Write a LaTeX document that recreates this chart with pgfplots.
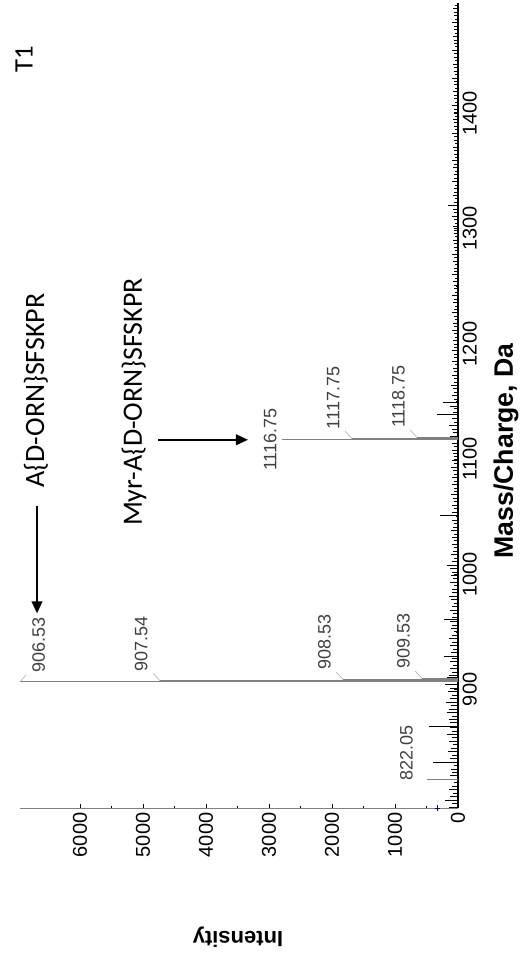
\documentclass[border=0pt]{standalone}
\usepackage{pgfplots}
\pgfplotsset{compat=1.18}
\usepackage{pgfplotstable}
\usepackage{fontspec}
\setmainfont{Liberation Sans}
\newfontfamily\calib{Carlito}
\usetikzlibrary{arrows.meta,calc}

% baseline noise: intensity, m/z
\pgfplotstableread{
int mz
140 798
90 801
210 804
120 807
80 810
150 813
100 816
70 819
130 825
90 828
110 831
70 834
400 837
120 840
90 843
160 846
110 849
80 852
140 855
100 858
170 861
90 864
130 867
460 868.3
120 871
150 874
90 877
180 880
140 883
110 886
190 889
130 892
100 895
160 898
120 901
210 904
180 910.5
140 912
100 915
130 918
80 921
120 924
90 927
230 929
110 932
80 935
120 938
90 941
140 944
100 947
70 950
110 953
90 956
130 959
220 960.5
100 963
80 966
120 969
90 972
70 975
110 978
150 981
90 984
100 987
70 990
120 993
80 996
110 999
90 1002
130 1005
170 1008
90 1011
70 1014
110 1017
80 1020
60 1023
100 1026
70 1029
90 1032
60 1035
110 1038
80 1041
70 1044
100 1047
290 1051
90 1054
70 1057
100 1060
60 1063
80 1066
110 1069
70 1072
60 1075
90 1078
70 1081
100 1084
60 1087
80 1090
110 1093
70 1096
90 1099
60 1102
80 1105
100 1108
70 1111
90 1114
120 1120
80 1123
100 1126
150 1129
70 1132
90 1135
330 1138.6
80 1141
70 1144
120 1146
240 1149
70 1152
90 1155
60 1158
80 1161
110 1164
60 1167
70 1170
90 1173
60 1176
80 1179
50 1182
90 1185
70 1188
60 1191
100 1194
70 1197
60 1200
80 1203
50 1206
70 1209
90 1212
60 1215
80 1218
50 1221
70 1224
90 1227
60 1230
50 1233
80 1236
60 1239
90 1242
50 1245
70 1248
60 1251
80 1254
50 1257
90 1260
60 1263
70 1266
50 1269
80 1272
60 1275
90 1278
50 1281
70 1284
60 1287
80 1290
50 1293
70 1296
60 1299
80 1302
50 1305
70 1308
90 1311
60 1314
80 1317
160 1320.5
70 1323
50 1326
80 1329
60 1332
70 1335
50 1338
90 1341
60 1344
70 1347
50 1350
80 1353
60 1356
90 1359
50 1362
70 1365
60 1368
80 1371
50 1374
70 1377
60 1380
90 1383
50 1386
70 1389
60 1392
80 1395
50 1398
70 1401
60 1404
90 1407
50 1410
70 1413
60 1416
80 1419
50 1422
70 1425
60 1428
90 1431
50 1434
70 1437
60 1440
80 1443
50 1446
70 1449
60 1452
90 1455
50 1458
70 1461
60 1464
80 1467
50 1470
70 1473
60 1476
90 1479
50 1482
70 1485
60 1488
80 1491
50 1494
}\noise

% labelled peaks: intensity, m/z
\pgfplotstableread{
int mz
492 822.05
6950 906.53
4730 907.54
1825 908.53
571 909.53
2794 1116.75
1683 1117.75
651 1118.75
}\peaks

\tikzset{
  pk/.style={font=\fontsize{13.5}{14}\selectfont, text=black!75, inner sep=0pt, rotate=90},
  ld/.style={gray!70, line width=0.4pt},
}

\begin{document}
\begin{tikzpicture}
\useasboundingbox (0,0) rectangle (393pt,-717.75pt);
\begin{axis}[
  at={(179.25pt,-304.125pt)}, anchor=center,
  scale only axis, width=328.5pt, height=603.75pt,
  x dir=reverse,
  xmin=0, xmax=6950, ymin=797, ymax=1496,
  axis x line=bottom, axis y line=right,
  clip=false,
  xtick={0,1000,...,6000}, ytick={900,1000,...,1400},
  minor x tick num=1, minor y tick num=1,
  tick align=inside,
  major tick length=3pt, minor tick length=1.5pt,
  tick style={black, line width=0.4pt},
  x axis line style={gray, line width=0.5pt, -},
  y axis line style={black, line width=1.4pt, -},
  xticklabel style={rotate=90, anchor=east, font=\fontsize{15}{15}\selectfont},
  yticklabel style={rotate=90, anchor=north, font=\fontsize{15}{15}\selectfont},
  /pgf/number format/assume math mode=true,
  /pgf/number format/set thousands separator={},
]
\addplot[xcomb, black, line width=0.5pt] table[x=int, y=mz] {\noise};
\addplot[xcomb, gray, line width=0.8pt] table[x=int, y=mz] {\peaks};
\addplot[only marks, mark=+, mark size=2pt, blue!70!black] coordinates {(330,797)};

% peak labels with leaders
\node[pk, anchor=south west] at ($(axis cs:492,822.05)+(-10.5pt,-1.5pt)$) {822.05};
\draw[ld] (axis cs:6950,906.53) -- ++(4.5pt,5.25pt);
\node[pk, anchor=north west] at ($(axis cs:6950,906.53)+(9pt,6.75pt)$) {906.53};
\draw[ld] (axis cs:4730,907.54) -- ++(-5pt,5.5pt);
\node[pk, anchor=south west] at ($(axis cs:4730,907.54)+(-9pt,7pt)$) {907.54};
\draw[ld] (axis cs:1825,908.53) -- ++(-5pt,5.5pt);
\node[pk, anchor=south west] at ($(axis cs:1825,908.53)+(-9pt,7pt)$) {908.53};
\draw[ld] (axis cs:571,909.53) -- ++(-5pt,5.5pt);
\node[pk, anchor=south west] at ($(axis cs:571,909.53)+(-9pt,7pt)$) {909.53};
\node[pk, anchor=south] at ($(axis cs:2794,1116.75)+(-3.75pt,0pt)$) {1116.75};
\draw[ld] (axis cs:1683,1117.75) -- ++(-5pt,5.5pt);
\node[pk, anchor=south west] at ($(axis cs:1683,1117.75)+(-9pt,7pt)$) {1117.75};
\draw[ld] (axis cs:651,1118.75) -- ++(-5pt,5.5pt);
\node[pk, anchor=south west] at ($(axis cs:651,1118.75)+(-9pt,7pt)$) {1118.75};

% annotation arrows
\draw[line width=1.3pt, -{Triangle[length=9pt,width=8pt]}] (axis cs:4762,1116.75) -- (axis cs:3333,1116.75);
\draw[line width=1.3pt, -{Triangle[length=9pt,width=8pt]}] (axis cs:6680,1059) -- (axis cs:6680,966);
\end{axis}

\node[rotate=90, font=\bfseries\fontsize{20}{20}\selectfont] at (379.5pt,-338.25pt) {Mass/Charge, Da};
\node[rotate=180, font=\bfseries\fontsize{16.5}{17}\selectfont] at (178.5pt,-702.75pt) {Intensity};
\node[rotate=90, font=\calib\fontsize{20}{20}\selectfont] at (18pt,-44.25pt) {T1};
\node[rotate=90, font=\calib\fontsize{21}{21}\selectfont] at (100.5pt,-301.5pt) {Myr-A\{D-ORN\}SFSKPR};
\node[rotate=90, font=\calib\fontsize{21}{21}\selectfont, anchor=west] at (27pt,-369pt) {A\{D-ORN\}SFSKPR};
\end{tikzpicture}
\end{document}
